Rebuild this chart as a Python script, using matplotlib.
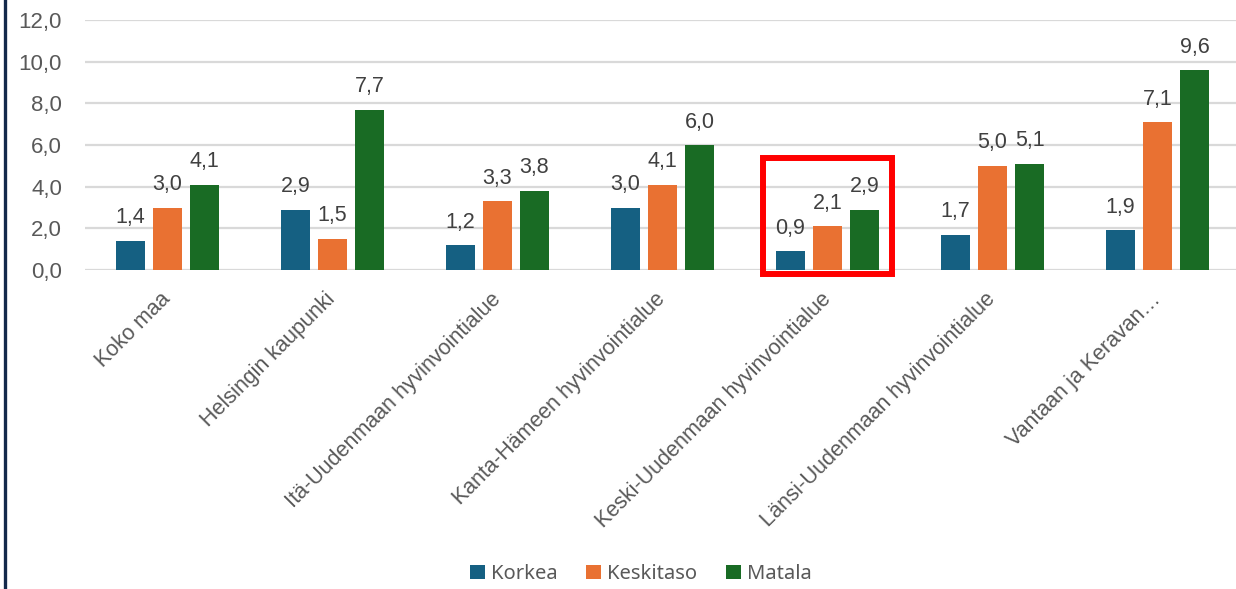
import matplotlib.pyplot as plt
import numpy as np
from matplotlib.lines import Line2D
from matplotlib.patches import Rectangle

# Alueet ja sarjat
alueet = [
    "Koko maa",
    "Helsingin kaupunki",
    "Itä-Uudenmaan hyvinvointialue",
    "Kanta-Hämeen hyvinvointialue",
    "Keski-Uudenmaan hyvinvointialue",
    "Länsi-Uudenmaan hyvinvointialue",
    "Vantaan ja Keravan…",
]
korkea = [1.4, 2.9, 1.2, 3.0, 0.9, 1.7, 1.9]
keskitaso = [3.0, 1.5, 3.3, 4.1, 2.1, 5.0, 7.1]
matala = [4.1, 7.7, 3.8, 6.0, 2.9, 5.1, 9.6]

sarjat = ["Korkea", "Keskitaso", "Matala"]
varit = ["#156082", "#E97132", "#196B24"]
y_ticks = [0, 2, 4, 6, 8, 10, 12]
korostettu = 4  # Keski-Uusimaa

TEKSTI = "#595959"
plt.rcParams["font.family"] = ["Liberation Sans", "DejaVu Sans"]

fig = plt.figure(figsize=(12.36, 5.89), dpi=100)
ax = fig.add_axes([85 / 1236, 1 - 270 / 589, 1155 / 1236, 250 / 589])

x = np.arange(len(alueet))
leveys = 29 / 165
vali = 37 / 165

for i, (arvot, nimi, vari) in enumerate(zip([korkea, keskitaso, matala], sarjat, varit)):
    pos = x + (i - 1) * vali
    ax.bar(pos, arvot, width=leveys, color=vari, label=nimi, zorder=3)
    for px, v in zip(pos, arvot):
        ax.annotate(f"{v:.1f}".replace(".", ","), (px, v), xytext=(0, 12.5),
                    textcoords="offset points", ha="center", va="baseline",
                    fontsize=15.5, color="#404040", zorder=4)

ax.set_xlim(-0.5, len(alueet) - 0.5)
ax.set_ylim(0, 12)
ax.set_yticks(y_ticks)
ax.set_yticklabels([f"{t:.1f}".replace(".", ",") for t in y_ticks],
                   fontsize=16, color=TEKSTI)
ax.set_xticks(x)
ax.set_xticklabels(alueet, rotation=45, ha="right", va="center",
                   rotation_mode="anchor", fontsize=15.5, color=TEKSTI)
ax.tick_params(axis="both", length=0)
ax.tick_params(axis="x", pad=19)
ax.tick_params(axis="y", pad=16.5)
ax.grid(axis="y", color="#d9d9d9", linewidth=1.6, zorder=0)
for s in ax.spines.values():
    s.set_visible(False)

# punainen kehys korostetun alueen ympärille
kehys = Rectangle((korostettu - 0.388, -0.19), 0.776, 5.566, fill=False,
                  edgecolor="#FF0000", linewidth=4.3, clip_on=False, zorder=5)
ax.add_patch(kehys)

leg = fig.legend(loc="center", bbox_to_anchor=(641 / 1236, 1 - 574 / 589),
                 ncol=3, frameon=False, handlelength=0.75, handleheight=0.75,
                 handletextpad=0.3, columnspacing=1.4,
                 prop={"family": ["Noto Sans", "DejaVu Sans"], "size": 14.5})
for t in leg.get_texts():
    t.set_color(TEKSTI)

# tumma reunaviiva vasemmalla
fig.add_artist(Line2D([4.5 / 1236, 4.5 / 1236], [0, 1], color="#13294b",
                      linewidth=2.4, transform=fig.transFigure))

fig.savefig("out.png", dpi=100, facecolor="white")
